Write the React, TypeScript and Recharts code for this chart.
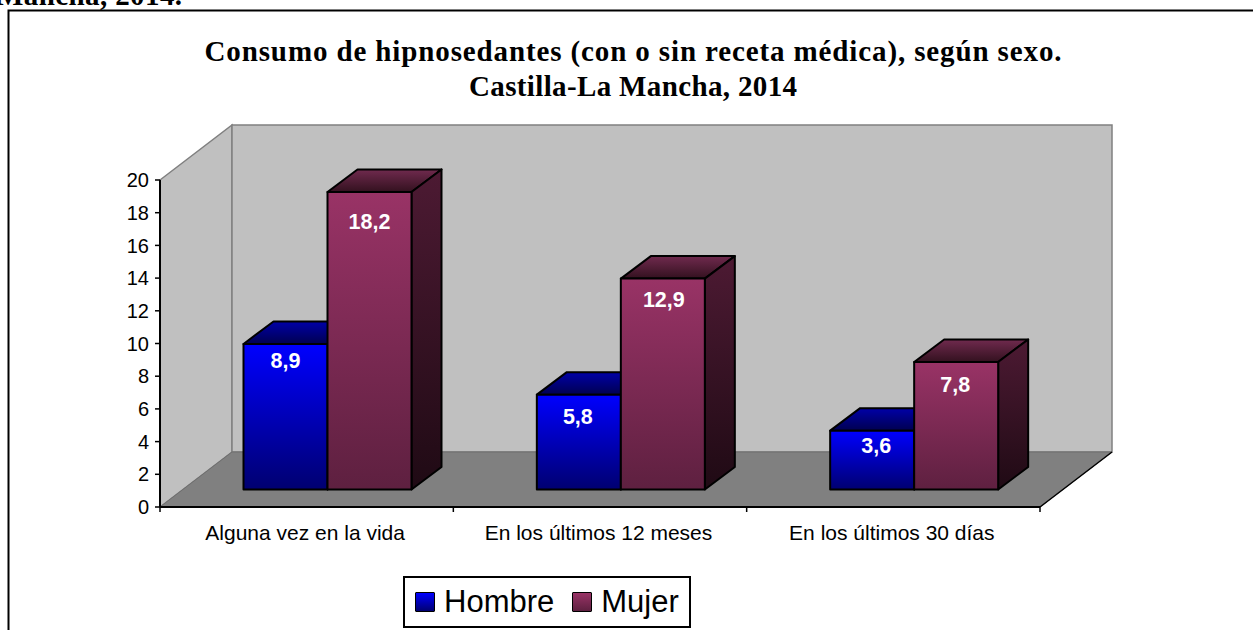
import React from 'react'
import { BarChart, Bar, XAxis, YAxis, Legend, LabelList, usePlotArea } from 'recharts'

const categories = ['Alguna vez en la vida', 'En los últimos 12 meses', 'En los últimos 30 días']
const hombre = [8.9, 5.8, 3.6]
const mujer = [18.2, 12.9, 7.8]
const yTicks = [0, 2, 4, 6, 8, 10, 12, 14, 16, 18, 20]

const data = categories.map((name, i) => ({ name, Hombre: hombre[i], Mujer: mujer[i] }))

// 3D look, all in px
const WALL_DX = 72
const WALL_DY = 55
const BAR_DX = 30
const BAR_DY = 22.5
const BAR_SHIFT_X = 20.5
const BAR_SHIFT_Y = 17.5
// the labels were moved by hand in the original
const LABEL_DROP: Record<string, number[]> = { Hombre: [17, 22, 15], Mujer: [30, 21, 23] }
const LABEL_NUDGE: Record<string, number[]> = { Hombre: [0, -1, 4], Mujer: [0, 1, -1] }

const SANS = '"Liberation Sans", Arial, sans-serif'
const SERIF = '"Liberation Serif", "Times New Roman", serif'

function Gradients() {
  const g = (id: string, top: string, bottom: string) => (
    <linearGradient id={id} x1="0" y1="0" x2="0" y2="1">
      <stop offset="0%" stopColor={top} />
      <stop offset="100%" stopColor={bottom} />
    </linearGradient>
  )
  return (
    <defs>
      {g('hFront', '#0000ff', '#000070')}
      {g('hTop', '#0000a8', '#000050')}
      {g('hSide', '#000080', '#000030')}
      {g('mFront', '#993366', '#5e2040')}
      {g('mTop', '#702a4e', '#33111f')}
      {g('mSide', '#4d1a33', '#1f0a14')}
    </defs>
  )
}

function Backdrop() {
  const plot = usePlotArea()
  if (!plot) return null
  const { x, y, width, height } = plot
  const bottom = y + height
  const right = x + width
  const ticks = categories.map((_, i) => x + (width * i) / categories.length).concat(right)
  return (
    <g>
      <Gradients />
      <rect x={8.5} y={10.5} width={1300} height={640} fill="#fff" stroke="#000" strokeWidth={2} />
      <text x={-4} y={5} letterSpacing={0.4} fontFamily={SERIF} fontWeight="bold" fontSize={29} fill="#000">Mancha, 2014.</text>
      <text x={633} y={61} textAnchor="middle" textLength={857} lengthAdjust="spacing" fontFamily={SERIF} fontWeight="bold" fontSize={29} fill="#000">
        Consumo de hipnosedantes (con o sin receta médica), según sexo.
      </text>
      <text x={633} y={96} textAnchor="middle" textLength={328} lengthAdjust="spacing" fontFamily={SERIF} fontWeight="bold" fontSize={29} fill="#000">
        Castilla-La Mancha, 2014
      </text>
      <polygon
        points={`${x},${y} ${x + WALL_DX},${y - WALL_DY} ${x + WALL_DX},${bottom - WALL_DY} ${x},${bottom}`}
        fill="#c0c0c0"
        stroke="#808080"
        strokeWidth={1.5}
      />
      <rect x={x + WALL_DX} y={y - WALL_DY} width={width} height={height} fill="#c0c0c0" stroke="#808080" strokeWidth={1.5} />
      <polygon
        points={`${x},${bottom} ${x + WALL_DX},${bottom - WALL_DY} ${right + WALL_DX},${bottom - WALL_DY} ${right},${bottom}`}
        fill="#808080"
        stroke="#6e6e6e"
      />
      <line x1={right} y1={bottom} x2={right + WALL_DX} y2={bottom - WALL_DY} stroke="#000" strokeWidth={1.5} />
      {ticks.map((t) => (
        <line key={t} x1={t} y1={bottom} x2={t} y2={bottom + 5} stroke="#000" strokeWidth={1.5} />
      ))}
    </g>
  )
}

function Bar3D(props: any, front: string, top: string, side: string) {
  const { x: x0, y: y0, width: w, height: h } = props
  const x = x0 + BAR_SHIFT_X
  const y = y0 - BAR_SHIFT_Y
  const stroke = { stroke: '#000', strokeWidth: 2, strokeLinejoin: 'round' as const }
  return (
    <g>
      <polygon
        points={`${x},${y} ${x + BAR_DX},${y - BAR_DY} ${x + w + BAR_DX},${y - BAR_DY} ${x + w},${y}`}
        fill={`url(#${top})`}
        {...stroke}
      />
      <polygon
        points={`${x + w},${y} ${x + w + BAR_DX},${y - BAR_DY} ${x + w + BAR_DX},${y + h - BAR_DY} ${x + w},${y + h}`}
        fill={`url(#${side})`}
        {...stroke}
      />
      <rect x={x} y={y} width={w} height={h} fill={`url(#${front})`} {...stroke} />
    </g>
  )
}

const valueLabel = (key: string) => (props: any) => {
  const { x, y, width, value, index } = props
  return (
    <text
      x={x + BAR_SHIFT_X + width / 2 + LABEL_NUDGE[key][index]}
      y={y - BAR_SHIFT_Y + LABEL_DROP[key][index]}
      textAnchor="middle"
      dominantBaseline="central"
      fontFamily={SANS}
      fontWeight="bold"
      fontSize={21.5}
      fill="#fff"
    >
      {String(value).replace('.', ',')}
    </text>
  )
}

function LegendBox() {
  const swatch = (from: string, to: string) => ({
    width: 20,
    height: 20,
    border: '1.5px solid #000',
    boxSizing: 'border-box' as const,
    background: `linear-gradient(${from}, ${to})`,
    borderRadius: 1,
  })
  return (
    <div
      style={{
        width: 288,
        height: 52,
        boxSizing: 'border-box',
        border: '2px solid #000',
        background: '#fff',
        fontFamily: SANS,
        fontSize: 31,
        color: '#000',
        display: 'flex',
        alignItems: 'center',
        paddingLeft: 10,
      }}
    >
      <div style={swatch('#0000ff', '#000070')} />
      <span style={{ marginLeft: 9 }}>Hombre</span>
      <div style={{ ...swatch('#993366', '#5e2040'), marginLeft: 18 }} />
      <span style={{ marginLeft: 9 }}>Mujer</span>
    </div>
  )
}

export default function App() {
  return (
    <div style={{ position: 'absolute', left: 0, top: 0, width: 1253, height: 630, overflow: 'hidden', background: '#fff' }}>
      <BarChart
        width={1253}
        height={630}
        data={data}
        margin={{ top: 180, right: 213, bottom: 83, left: 110 }}
        barSize={84}
        barGap={0}
      >
        <Backdrop />
        <XAxis
          dataKey="name"
          height={40}
          axisLine={{ stroke: '#000', strokeWidth: 2 }}
          tickLine={false}
          tickMargin={12}
          tick={{ fontFamily: SANS, fontSize: 21, fill: '#000', dx: -1.5 }}
          interval={0}
        />
        <YAxis
          width={50}
          domain={[0, 20]}
          ticks={yTicks}
          interval={0}
          axisLine={{ stroke: '#000', strokeWidth: 2 }}
          tickLine={{ stroke: '#000', strokeWidth: 1.5 }}
          tickSize={5}
          tickMargin={6}
          tick={{ fontFamily: SANS, fontSize: 20, fill: '#000' }}
        />
        <Bar dataKey="Hombre" isAnimationActive={false} shape={(p: any) => Bar3D(p, 'hFront', 'hTop', 'hSide')}>
          <LabelList dataKey="Hombre" content={valueLabel('Hombre')} />
        </Bar>
        <Bar dataKey="Mujer" isAnimationActive={false} shape={(p: any) => Bar3D(p, 'mFront', 'mTop', 'mSide')}>
          <LabelList dataKey="Mujer" content={valueLabel('Mujer')} />
        </Bar>
        <Legend
          layout="horizontal"
          verticalAlign="middle"
          content={() => <LegendBox />}
          wrapperStyle={{ left: 403, top: 576, width: 288, height: 52 }}
        />
      </BarChart>
    </div>
  )
}
